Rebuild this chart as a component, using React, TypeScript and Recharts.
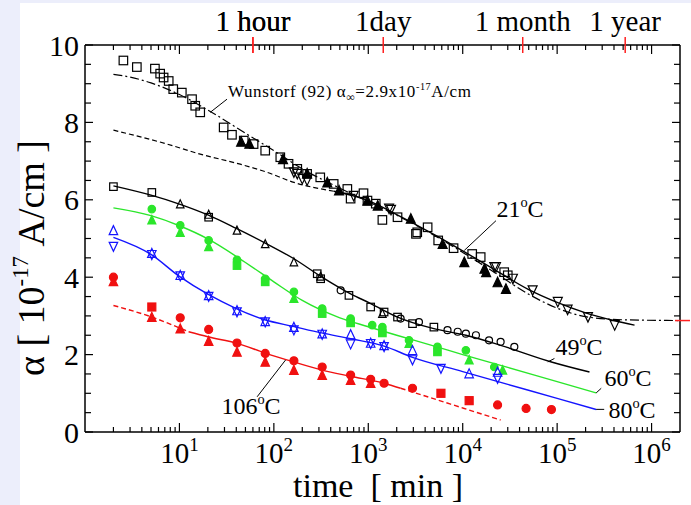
import React from 'react';
import { ComposedChart, Line, Scatter, XAxis, YAxis, ReferenceLine } from 'recharts';

const FONT = "'Liberation Serif', 'Times New Roman', serif";
const GREEN = '#2be62b';
const BLUE = '#1414ff';
const RED = '#f01010';

// [time in min, alpha in 1e-17 A/cm]
const sq21 = [
  [2.55, 9.6], [3.54, 9.43], [5.5, 9.39], [6.25, 9.26], [6.8, 9.16], [7.7, 9.07], [8.6, 8.86],
  [10.6, 8.77], [13.6, 8.6], [14.7, 8.43], [16.6, 8.26], [29.4, 7.87], [36, 7.68], [48, 7.53],
  [61, 7.44], [81, 7.27], [117, 7.1], [143, 6.93], [177, 6.8], [225, 6.67], [310, 6.58],
  [430, 6.41], [600, 6.28], [650, 6.03], [890, 6.17], [980, 5.98], [1200, 5.9], [1410, 5.48],
  [2040, 5.55], [3200, 5.12], [3300, 5.16], [4250, 5.29], [5500, 4.95], [8000, 4.75],
  [12600, 4.6], [15500, 4.52], [27500, 4.13], [30000, 4.05],
];
const tri21 = [
  [45, 7.5], [55, 7.45], [125, 7.05], [225, 6.68], [368, 6.45], [490, 6.24], [980, 5.98],
  [1260, 5.85], [2820, 5.51], [6130, 4.86], [10400, 4.39], [17000, 4.22], [17700, 4.13],
  [23400, 3.87], [28700, 3.7],
];
const dn21 = [
  [163, 6.71], [177, 6.67], [200, 6.54], [225, 6.5], [700, 6.1], [1660, 5.77], [1740, 5.74],
  [21600, 4.26], [22500, 4.26], [34000, 3.96], [55000, 3.66], [101600, 3.36], [129000, 3.16],
  [212000, 2.97], [407000, 2.76],
];

const sq49 = [
  [2, 6.34], [5.1, 6.19], [20.4, 5.55], [288, 4.09], [313, 3.96], [624, 3.53], [1060, 3.23],
  [1470, 3.1], [2040, 2.97], [2940, 2.8], [4950, 2.71],
];
const tri49 = [[10.2, 5.89], [20.4, 5.62], [40.7, 5.21], [81, 4.86], [163, 4.39], [313, 4.02], [1410, 3.06]];
const circ49 = [
  [510, 3.66], [2200, 2.93], [3440, 2.84], [6900, 2.63], [8850, 2.59], [10800, 2.54],
  [13800, 2.5], [19000, 2.37], [25200, 2.33], [35200, 2.2],
];

const circ60 = [
  [5.1, 5.76], [10.2, 5.34], [20.4, 4.95], [40.7, 4.45], [81, 3.96], [163, 3.62], [325, 3.19],
  [650, 2.93], [1100, 2.76], [1410, 2.71], [2700, 2.37], [5400, 2.2], [10800, 2.11], [21600, 1.68],
];
const sq60 = [[40.7, 4.3], [81, 3.88], [325, 3.06], [650, 2.82], [1410, 2.56], [5400, 2.07]];
const tri60 = [[5.1, 5.48], [10.2, 5.16], [20.4, 4.79], [163, 3.45], [2700, 2.29], [11700, 1.86], [26500, 1.6]];

const up80 = [
  [2, 5.21], [5.1, 4.62], [10.2, 4.05], [20.4, 3.53], [40.7, 3.14], [81, 2.86], [163, 2.71],
  [325, 2.54], [650, 2.52], [1060, 2.3], [1470, 2.24], [2940, 2.11], [11700, 1.51], [23400, 1.55],
];
const dn80 = [
  [2, 4.79], [5.1, 4.58], [10.2, 4.03], [20.4, 3.5], [40.7, 3.1], [81, 2.84], [163, 2.63],
  [325, 2.52], [650, 2.27], [1060, 2.28], [1470, 2.2], [2940, 1.86], [5880, 1.64], [23400, 1.38],
];

const circ106 = [
  [2, 4.0], [10.2, 2.95], [20.4, 2.65], [40.7, 2.3], [81, 2.03], [163, 1.84], [325, 1.68],
  [650, 1.47], [1060, 1.36], [1470, 1.26], [2940, 1.13], [23400, 0.7], [46900, 0.61], [87000, 0.58],
];
const tri106 = [
  [2, 3.89], [5.1, 2.97], [10.2, 2.67], [20.4, 2.35], [40.7, 2.07], [81, 1.81], [163, 1.6],
  [325, 1.47], [650, 1.34], [1060, 1.26],
];
const sq106 = [[5.1, 3.23], [5880, 1.0], [11700, 0.81]];

// fitted / model curves
const wunstorf = [
  [2, 9.24], [3, 9.17], [5, 9.02], [10, 8.72], [20, 8.32], [50, 7.72], [100, 7.27], [200, 6.8],
  [500, 6.3], [1000, 5.95], [2000, 5.6], [5000, 5.08], [1e4, 4.64], [2e4, 4.18], [5e4, 3.56],
  [1e5, 3.2], [2e5, 2.98], [5e5, 2.9], [2e6, 2.88],
];
const fit21short = [[2, 7.8], [7.4, 7.44], [16.6, 7.18], [44, 6.92], [85, 6.71], [163, 6.45], [433, 6.22]];
const fit21 = [
  [433, 6.22], [1000, 5.98], [2000, 5.62], [5000, 5.1], [1e4, 4.68], [2e4, 4.25], [5e4, 3.68],
  [1e5, 3.35], [2e5, 3.08], [4e5, 2.88], [6.6e5, 2.76],
];
const fit49 = [
  [2, 6.36], [5, 6.12], [10, 5.89], [20, 5.61], [40, 5.26], [80, 4.89], [160, 4.49], [320, 4.01],
  [650, 3.57], [1060, 3.32], [2040, 2.97], [4950, 2.67], [10800, 2.5], [25200, 2.24], [87000, 1.81],
  [2.2e5, 1.55],
];
const fit60 = [
  [2, 5.79], [5, 5.59], [10, 5.33], [20, 4.99], [50, 4.38], [100, 3.88], [200, 3.4], [500, 2.95],
  [1000, 2.72], [2000, 2.5], [5000, 2.22], [1e4, 2.0], [3e4, 1.67], [1e5, 1.3], [2.6e5, 1.01],
];
const fit80 = [
  [2, 5.03], [5, 4.59], [10, 4.02], [20, 3.56], [40, 3.19], [80, 2.9], [160, 2.73], [320, 2.56],
  [650, 2.41], [1470, 2.22], [2940, 1.93], [1e4, 1.56], [3e4, 1.23], [1e5, 0.87], [2.6e5, 0.58],
];
const fit106a = [[2, 3.27], [5.1, 2.97], [12.5, 2.59]];
const fit106b = [
  [12.5, 2.59], [20, 2.46], [41, 2.29], [81, 2.04], [163, 1.81], [325, 1.6], [650, 1.44],
  [1470, 1.26], [2200, 1.13],
];
const fit106c = [[2200, 1.13], [7450, 0.72], [25200, 0.31]];

const alphaInf = 2.88;

// axis ticks
const decades = [10, 100, 1e3, 1e4, 1e5, 1e6];
const xTicks = [2, 3, 4, 5, 6, 7, 8, 9].flatMap((m) => [1, 10, 100, 1e3, 1e4, 1e5].map((d) => m * d))
  .concat(decades).filter((v) => v < 1.99e6).sort((a, b) => a - b);
const timeMarks = [60, 1440, 43200, 525600];
const timeLabels = ['1 hour', '1day', '1 month', '1 year'];
const yTicks = Array.from({ length: 21 }, (_, i) => i * 0.5);
const yLabels = [0, 2, 4, 6, 8, 10];

const pts = (arr: number[][]) => arr.map(([t, a]) => ({ t, a }));

const isDecade = (v: number) => decades.includes(v);

const BottomTick = (props: any) => {
  const { x, y, payload } = props;
  const v = payload.value;
  const major = isDecade(v);
  return (
    <g>
      <line x1={x} x2={x} y1={y} y2={y - (major ? 9 : 5)} stroke="#000" strokeWidth={1.2} />
      {major && (
        <text x={x} y={y + 31} textAnchor="middle" fontFamily={FONT} fontSize={29} fill="#000">
          10<tspan dy={-12} fontSize={19}>{Math.round(Math.log10(v))}</tspan>
        </text>
      )}
    </g>
  );
};

const TopTick = (props: any) => {
  const { x, y, payload } = props;
  const v = payload.value;
  const k = timeMarks.indexOf(v);
  if (k >= 0) {
    return (
      <g>
        <line x1={x} x2={x} y1={y - 8} y2={y + 8} stroke="#ff2020" strokeWidth={1.5} />
        <text x={x} y={y - 14} textAnchor="middle" fontFamily={FONT} fontSize={29} fill="#000">
          {timeLabels[k]}
        </text>
      </g>
    );
  }
  const major = isDecade(v);
  return <line x1={x} x2={x} y1={y} y2={y + (major ? 9 : 5)} stroke="#000" strokeWidth={1.2} />;
};

const LeftTick = (props: any) => {
  const { x, y, payload } = props;
  const v = payload.value;
  const major = yLabels.includes(v);
  return (
    <g>
      <line x1={x} x2={x + (major ? 8 : 6)} y1={y} y2={y} stroke="#000" strokeWidth={1.2} />
      {major && (
        <text x={x - 6} y={y} dy="0.35em" textAnchor="end" fontFamily={FONT} fontSize={30} fill="#000">
          {v}
        </text>
      )}
    </g>
  );
};

const RightTick = (props: any) => {
  const { x, y, payload } = props;
  const v = payload.value;
  if (v === alphaInf) {
    return <line x1={x - 5} x2={x + 10} y1={y} y2={y} stroke="#ff2020" strokeWidth={1.5} />;
  }
  const major = yLabels.includes(v);
  return <line x1={x} x2={x - (major ? 8 : 6)} y1={y} y2={y} stroke="#000" strokeWidth={1.2} />;
};

const marker = (kind: string, color: string, filled: boolean, s = 7.5) => (props: any) => {
  const { cx, cy } = props;
  if (cx == null || cy == null) return <g />;
  const fill = filled ? color : 'none';
  const h = s / 2;
  if (kind === 'sq') {
    return <rect x={cx - h} y={cy - h} width={s} height={s} fill={fill} stroke={color} strokeWidth={1.2} />;
  }
  if (kind === 'circ') {
    return <circle cx={cx} cy={cy} r={h} fill={fill} stroke={color} strokeWidth={1.2} />;
  }
  if (kind === 'up') {
    return (
      <polygon points={`${cx},${cy - h - 0.5} ${cx - h},${cy + h} ${cx + h},${cy + h}`}
        fill={fill} stroke={color} strokeWidth={1.2} />
    );
  }
  return (
    <polygon points={`${cx - h},${cy - h} ${cx + h},${cy - h} ${cx},${cy + h + 0.5}`}
      fill={fill} stroke={color} strokeWidth={1.2} />
  );
};

const Txt = ({ x, y, size, children, anchor = 'center', spacing = 0 }: any) => (
  <div
    style={{
      position: 'absolute', left: x, top: y, fontFamily: FONT, fontSize: size, lineHeight: 1,
      whiteSpace: 'nowrap', color: '#000', letterSpacing: spacing,
      transform: anchor === 'left' ? 'translate(0,-50%)' : 'translate(-50%,-50%)',
    }}
  >
    {children}
  </div>
);

const Sup = ({ children }: any) => (
  <span style={{ fontSize: '0.6em', position: 'relative', top: '-0.7em' }}>{children}</span>
);

const line = (data: number[][], color: string, dash?: string, w = 1.4) => (
  <Line data={pts(data)} dataKey="a" type="monotone" stroke={color} strokeWidth={w}
    strokeDasharray={dash} dot={false} activeDot={false} isAnimationActive={false} />
);

const scat = (data: number[][], shape: any) => (
  <Scatter data={pts(data)} dataKey="a" shape={shape} isAnimationActive={false} />
);

export default function App() {
  return (
    <div style={{ position: 'absolute', left: 0, top: 0, width: 691, height: 505, background: '#eceefb', overflow: 'hidden' }}>
      <div style={{ position: 'absolute', left: 20, top: 3, right: 0, bottom: 0, background: '#fff' }} />
      <div style={{ position: 'absolute', left: 0, top: 0 }}>
        <ComposedChart width={691} height={505} margin={{ top: 0, right: 0, bottom: 0, left: 0 }}>
          <XAxis xAxisId={0} dataKey="t" type="number" scale="log" domain={[1, 2e6]} allowDataOverflow
            ticks={xTicks} interval={0} tick={<BottomTick />} tickLine={false} tickSize={0} tickMargin={0}
            height={73} axisLine={{ stroke: '#000', strokeWidth: 1.5 }} />
          <XAxis xAxisId="top" orientation="top" dataKey="t" type="number" scale="log" domain={[1, 2e6]}
            allowDataOverflow ticks={[...xTicks, ...timeMarks].sort((a, b) => a - b)} interval={0}
            tick={<TopTick />} tickLine={false} tickSize={0} tickMargin={0} height={45}
            axisLine={{ stroke: '#000', strokeWidth: 1.5 }} />
          <YAxis yAxisId={0} type="number" domain={[0, 10]} allowDataOverflow ticks={yTicks} interval={0}
            tick={<LeftTick />} tickLine={false} tickSize={0} tickMargin={0} width={85}
            axisLine={{ stroke: '#000', strokeWidth: 1.5 }} />
          <YAxis yAxisId="right" orientation="right" type="number" domain={[0, 10]} allowDataOverflow
            ticks={[...yTicks, alphaInf]} interval={0} tick={<RightTick />} tickLine={false} tickSize={0}
            tickMargin={0} width={11} axisLine={{ stroke: '#000', strokeWidth: 1.5 }} />

          {line(wunstorf, '#000', '9 3 2 3', 1.2)}
          {line(fit21short, '#000', '5 3', 1.2)}
          {line(fit21, '#000')}
          {line(fit49, '#000')}
          {line(fit60, GREEN)}
          {line(fit80, BLUE)}
          {line(fit106a, RED, '5 3')}
          {line(fit106b, RED)}
          {line(fit106c, RED, '5 3')}

          {scat(sq21, marker('sq', '#000', false, 8.5))}
          {scat(tri21, marker('up', '#000', true, 9))}
          {scat(dn21, marker('dn', '#000', false, 9))}
          {scat(sq49, marker('sq', '#000', false, 7.5))}
          {scat(tri49, marker('up', '#000', false, 7.5))}
          {scat(circ49, marker('circ', '#000', false, 7))}
          {scat(circ60, marker('circ', GREEN, true, 7.5))}
          {scat(sq60, marker('sq', GREEN, true, 7.5))}
          {scat(tri60, marker('up', GREEN, true, 8))}
          {scat(up80, marker('up', BLUE, false, 8.5))}
          {scat(dn80, marker('dn', BLUE, false, 8.5))}
          {scat(circ106, marker('circ', RED, true, 8))}
          {scat(tri106, marker('up', RED, true, 8.5))}
          {scat(sq106, marker('sq', RED, true, 8))}

          <ReferenceLine segment={[{ x: 21.2, y: 8.26 }, { x: 31.9, y: 8.6 }]} stroke="#000" strokeWidth={1} />
          <ReferenceLine segment={[{ x: 10380, y: 4.69 }, { x: 22500, y: 5.46 }]} stroke="#000" strokeWidth={1} />
          <ReferenceLine segment={[{ x: 79600, y: 1.81 }, { x: 93600, y: 1.9 }]} stroke="#000" strokeWidth={1} />
          <ReferenceLine segment={[{ x: 259000, y: 1.01 }, { x: 293000, y: 1.13 }]} stroke="#000" strokeWidth={1} />
          <ReferenceLine segment={[{ x: 259000, y: 0.585 }, { x: 315000, y: 0.585 }]} stroke="#000" strokeWidth={1} />
          <ReferenceLine segment={[{ x: 133, y: 1.86 }, { x: 66.5, y: 0.91 }]} stroke="#000" strokeWidth={1} />
        </ComposedChart>
      </div>

      <Txt x={228} y={91} size={17} anchor="left" spacing={0.6}>
        Wunstorf (92) α<span style={{ fontSize: '0.7em', position: 'relative', top: '0.3em' }}>∞</span>=2.9x10<Sup>-17</Sup>A/cm
      </Txt>
      <Txt x={520} y={209} size={24}>21<Sup>o</Sup>C</Txt>
      <Txt x={579} y={347} size={24}>49<Sup>o</Sup>C</Txt>
      <Txt x={628} y={378} size={24}>60<Sup>o</Sup>C</Txt>
      <Txt x={632} y={410} size={24}>80<Sup>o</Sup>C</Txt>
      <Txt x={251} y={406} size={24}>106<Sup>o</Sup>C</Txt>
      <Txt x={378} y={486} size={34}>time&nbsp;&nbsp;[ min ]</Txt>
      <div
        style={{
          position: 'absolute', left: 31, top: 258, fontFamily: FONT, fontSize: 38, lineHeight: 1,
          whiteSpace: 'nowrap', transform: 'translate(-50%,-50%) rotate(-90deg)',
        }}
      >
        α [ 10<Sup>-17</Sup> A/cm ]
      </div>
    </div>
  );
}
